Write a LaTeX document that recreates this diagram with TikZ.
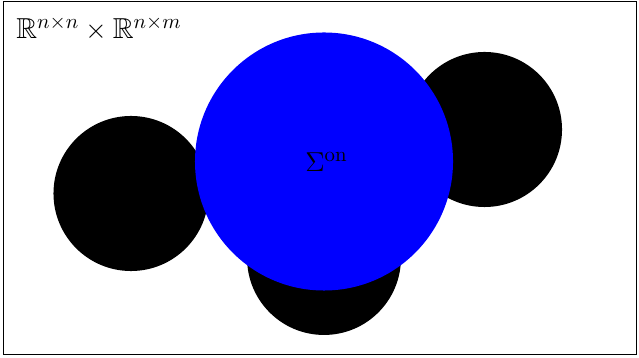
\documentclass[tikz,border=0pt]{standalone}
\usepackage{amssymb}
\begin{document}
\begin{tikzpicture}[x=0.5263pt,y=-0.5263pt,
  blackdisk/.style={fill=black},
  bluedisk/.style={fill=blue},
  lbl/.style={font=\fontsize{15.2}{18}\selectfont}]
\useasboundingbox (0,0) rectangle (639,358);
\draw[line width=0.5pt] (3,1) rectangle (636,354);
\coordinate (cl) at (131,193.5);
\coordinate (cr) at (484.5,129.5);
\coordinate (cb) at (324,258);
\coordinate (cc) at (324,161.5);
\fill[blackdisk] (cl) circle[radius=40.8pt];
\fill[blackdisk] (cr) circle[radius=40.8pt];
\fill[blackdisk] (cb) circle[radius=40.5pt];
\fill[bluedisk] (cc) circle[radius=67.9pt];
\node[lbl, anchor=base west, inner sep=0pt] (space) at (16,38.5) {$\mathbb{R}^{n\times n}\times\mathbb{R}^{n\times m}$};
\node[lbl, anchor=base west, inner sep=0pt] (sig) at (305,171.5) {$\Sigma^{\mathrm{on}}$};
\end{tikzpicture}
\end{document}
